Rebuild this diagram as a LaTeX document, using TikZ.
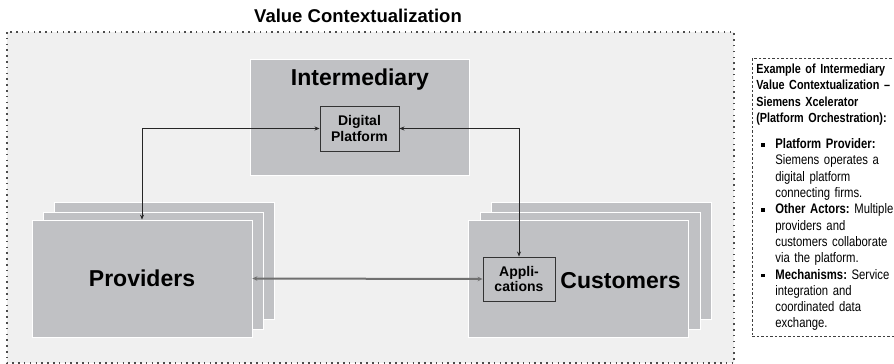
\documentclass[tikz,border=0pt]{standalone}
\usepackage{fontspec}
\setmainfont{Liberation Sans}
\newfontfamily\narrowfont[FakeStretch=0.82]{Liberation Sans}
\usetikzlibrary{arrows.meta}
\definecolor{panelgray}{RGB}{240,240,240}
\definecolor{boxgray}{RGB}{192,193,196}
\definecolor{linkgray}{RGB}{112,112,112}
\newcommand{\infobullet}{\hspace*{5pt}\makebox[14pt][l]{\rule[2pt]{3.5pt}{3.5pt}}}
\newcommand{\infoindent}{\hspace*{19pt}}
\newcommand{\infohead}[1]{{\fontsize{13.2}{16.3}\selectfont\bfseries #1}}

\begin{document}
\frenchspacing
\begin{tikzpicture}[x=1pt,y=-1pt,
  box/.style={fill=boxgray, draw=white, line width=0.8pt, inner sep=0pt,
    minimum width=220pt, minimum height=117pt},
  subbox/.style={fill=boxgray, draw=black!80, line width=0.9pt, inner sep=0pt,
    align=center, font=\bfseries\fontsize{14}{15.5}\selectfont},
  big/.style={font=\bfseries\fontsize{23}{26}\selectfont},
  link/.style={{Stealth[length=5pt,width=4pt]}-{Stealth[length=5pt,width=4pt]},
    line width=0.7pt, black!85},
  thicklink/.style={{Stealth[length=5pt,width=4.5pt]}-{Stealth[length=5pt,width=4.5pt]},
    line width=2pt, linkgray},
  infobox/.style={draw=black!75, dash pattern=on 2.5pt off 2pt, line width=0.7pt,
    align=left, inner xsep=4pt, inner ysep=5.5pt, text width=150pt,
    font=\narrowfont\fontsize{13.8}{16.3}\selectfont}]
\useasboundingbox (0,0) rectangle (894,364);
\node[font=\bfseries\fontsize{18.5}{22}\selectfont] (title) at (358,16) {Value Contextualization};
\draw[draw=black!70, fill=panelgray, line width=1.5pt, dash pattern=on 1.5pt off 4.3pt]
  (7,32) rectangle (734,363);

\node[box, minimum width=219pt, minimum height=116pt] (inter) at (359.5,117) {};
\node[big, anchor=base] (intertext) at (360,85) {Intermediary};
\node[subbox, minimum width=79pt, minimum height=45pt] (platform) at (359.5,128.5) {Digital\\Platform};

\node[box] (prov3) at (164.5,261) {};
\node[box] (prov2) at (153,270.5) {};
\node[box, big] (prov) at (142,278.5) {Providers};

\node[box] (cust3) at (601.5,261) {};
\node[box] (cust2) at (590,270.5) {};
\node[box] (cust) at (578,278.5) {};
\node[big, anchor=base] (custtext) at (620.5,288) {Customers};
\node[subbox, minimum width=72pt, minimum height=44pt] (apps) at (519,279) {Appli-\\cations};

\draw[link] (platform.west) -| (prov.north);
\draw[link] (platform.east) -| (apps.north);
\draw[thicklink] (prov.east) -- (apps.west);

\node[infobox, anchor=north west] (info) at (752,58) {%
\infohead{Example of Intermediary}\\
\infohead{Value Contextualization –}\\
\infohead{Siemens Xcelerator}\\
\infohead{(Platform Orchestration):}\\[10pt]
\infobullet\textbf{Platform Provider:}\\
\infoindent Siemens operates a\\
\infoindent digital platform\\
\infoindent connecting firms.\\
\infobullet\textbf{Other Actors:} Multiple\\
\infoindent providers and\\
\infoindent customers collaborate\\
\infoindent via the platform.\\
\infobullet\textbf{Mechanisms:} Service\\
\infoindent integration and\\
\infoindent coordinated data\\
\infoindent exchange.};
\end{tikzpicture}
\end{document}
